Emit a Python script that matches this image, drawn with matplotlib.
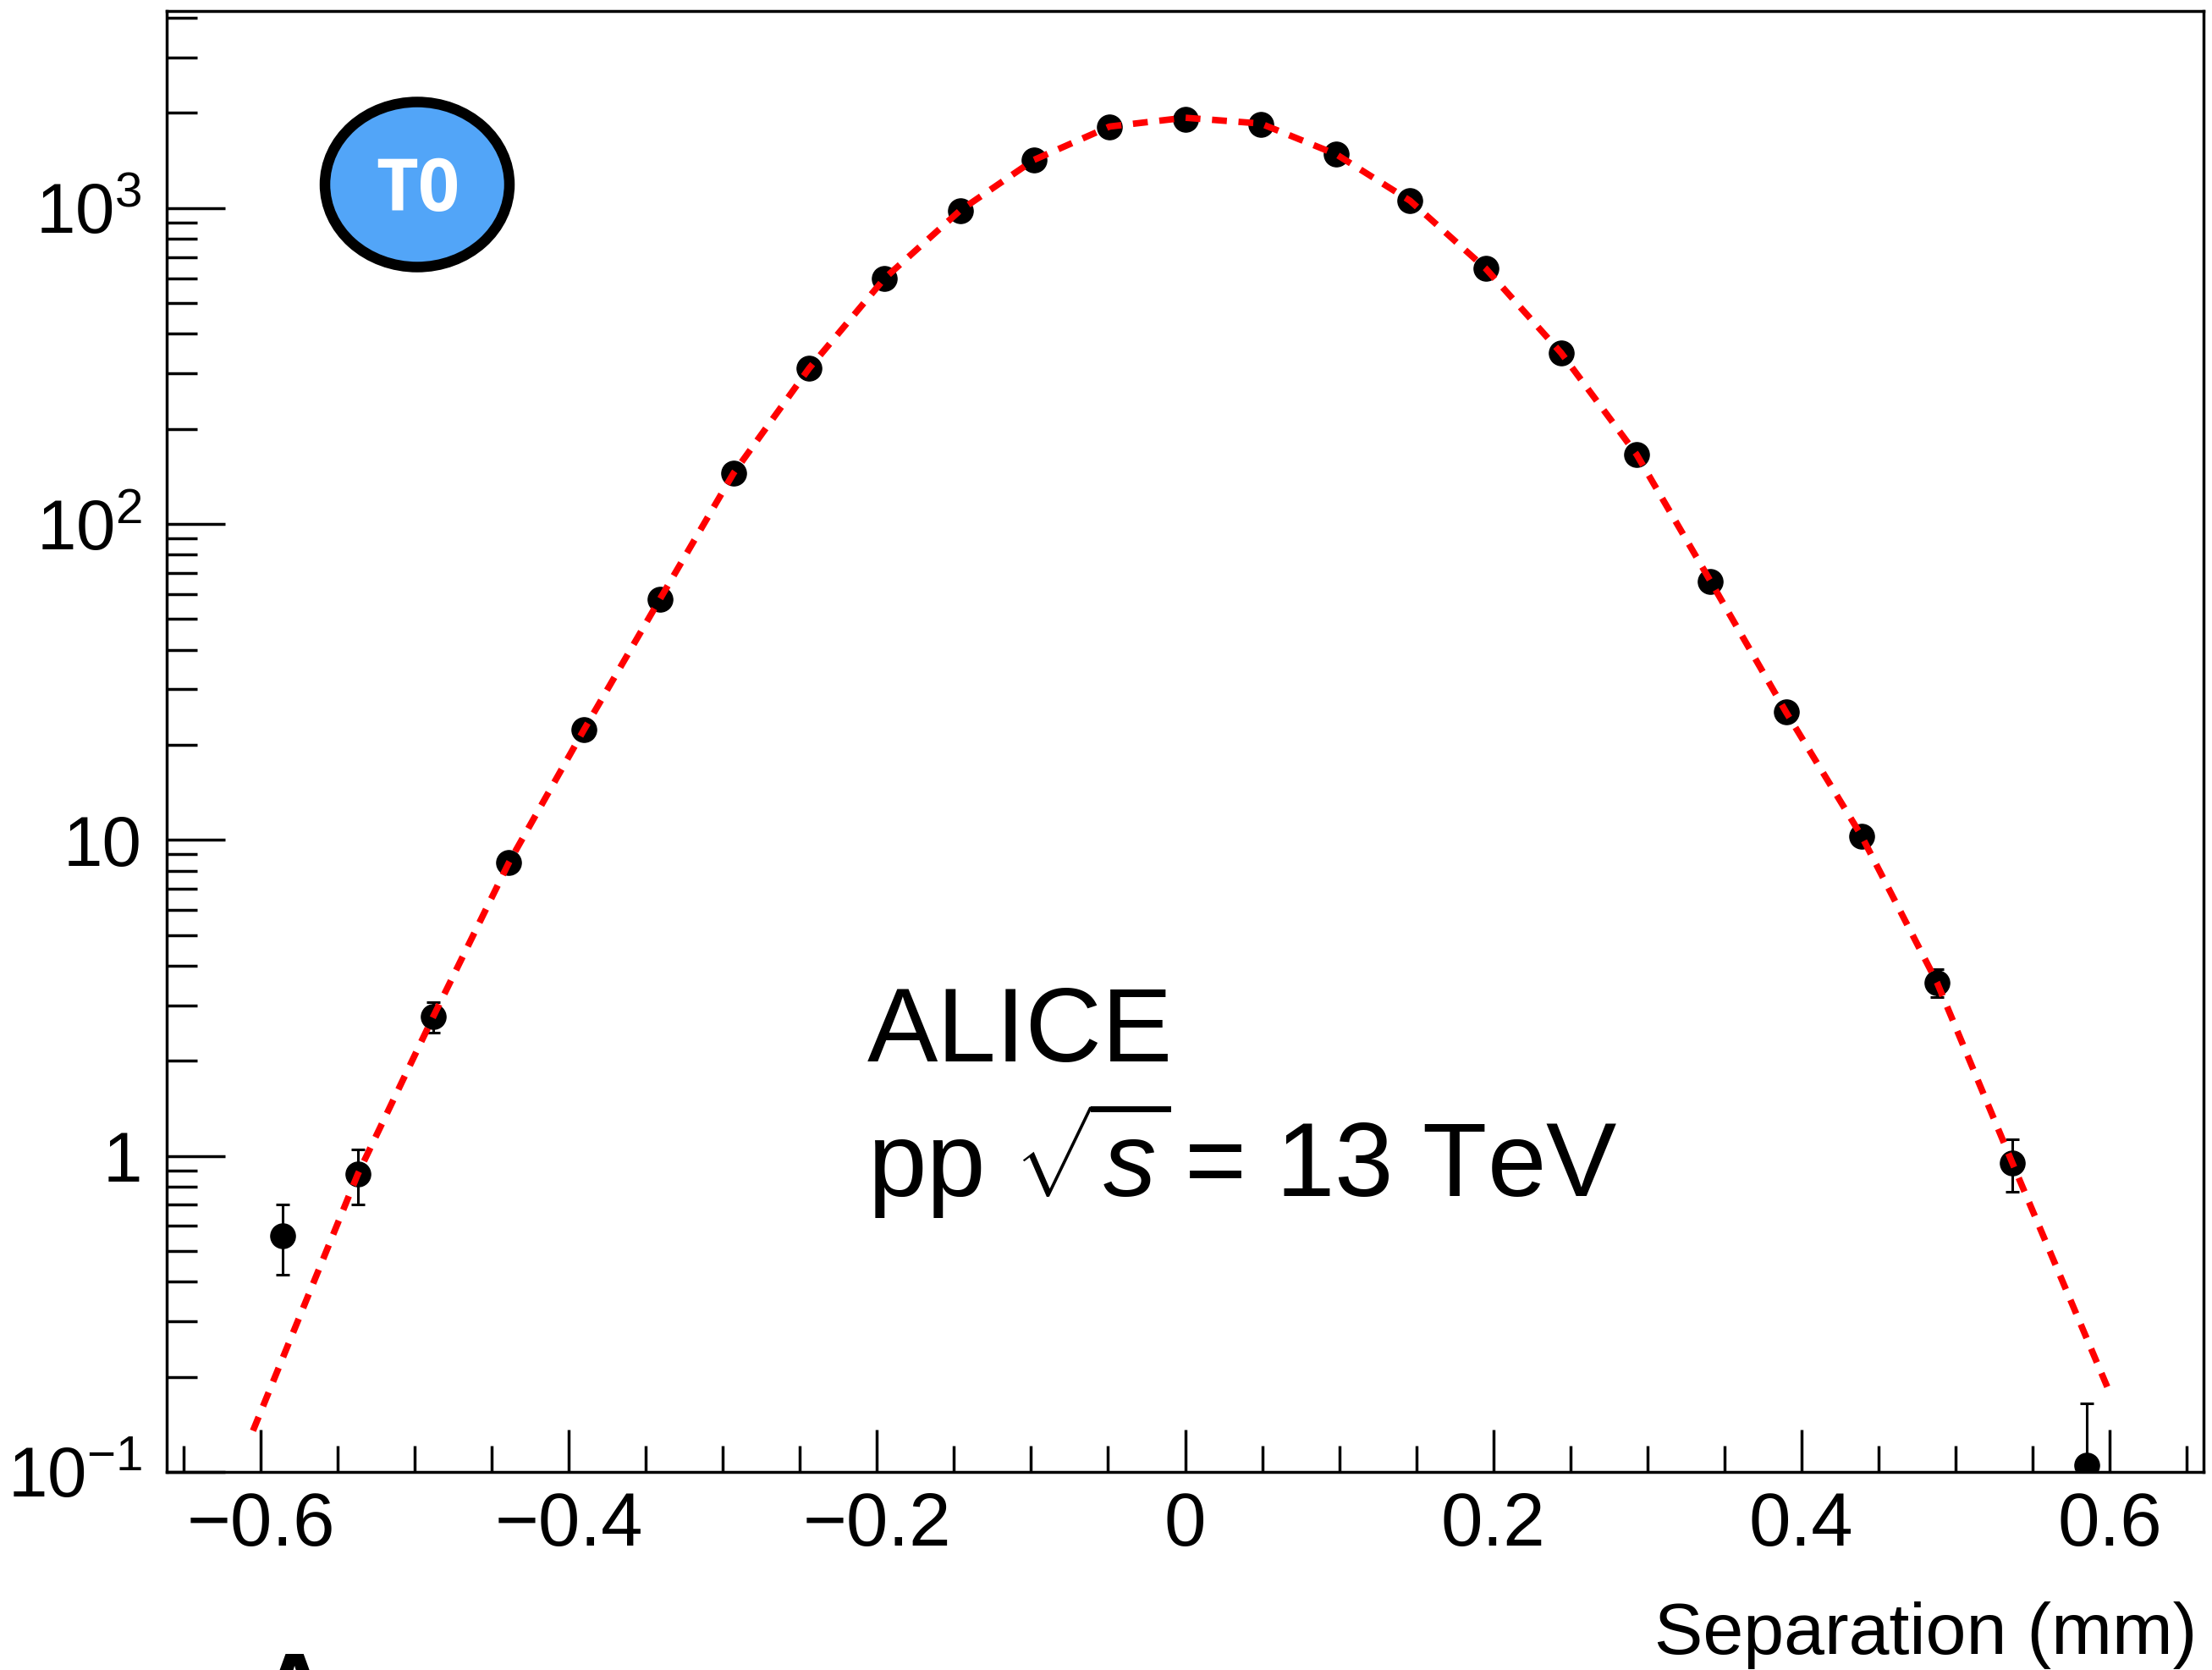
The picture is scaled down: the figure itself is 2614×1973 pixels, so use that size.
import numpy as np
import matplotlib
matplotlib.use("Agg")
from matplotlib import pyplot as plt
from matplotlib.patches import Ellipse
from matplotlib.ticker import FixedLocator, MultipleLocator, LogLocator, NullFormatter

plt.rcParams['font.family'] = ['Liberation Sans', 'DejaVu Sans']
plt.rcParams['mathtext.fontset'] = 'custom'
plt.rcParams['mathtext.rm'] = 'Liberation Sans'
plt.rcParams['mathtext.it'] = 'Liberation Sans:italic'
plt.rcParams['mathtext.bf'] = 'Liberation Sans:bold'

# separation bins (mm) and counts with their errors
separation = [-0.586, -0.537, -0.488, -0.439, -0.390, -0.341, -0.293, -0.244,
              -0.195, -0.146, -0.098, -0.049, 0.0, 0.049, 0.098, 0.146,
              0.195, 0.244, 0.293, 0.341, 0.390, 0.439, 0.488, 0.537, 0.585]
counts = [0.56, 0.875, 2.76, 8.46, 22.4, 57.7, 145, 311,
          599, 982, 1420, 1800, 1910, 1836, 1479, 1054,
          644, 348, 166, 65.9, 25.4, 10.3, 3.54, 0.948, 0.105]
errors = [0.14, 0.175, 0.31, 0.54, 0.89, 1.42, 2.25, 3.3,
          4.6, 5.9, 7.0, 7.9, 8.2, 8.0, 7.2, 6.1,
          4.7, 3.5, 2.4, 1.5, 0.94, 0.60, 0.35, 0.18, 0.06]

# fitted curve, sampled along its length
fit_sep = [-0.605, -0.537, -0.488, -0.439, -0.390, -0.341, -0.293, -0.244,
           -0.195, -0.146, -0.098, -0.049, 0.0, 0.049, 0.098, 0.146,
           0.195, 0.244, 0.293, 0.341, 0.390, 0.439, 0.488, 0.537, 0.601]
fit_counts = [0.135, 0.875, 2.76, 8.46, 22.4, 57.7, 145, 311,
              599, 982, 1420, 1810, 1930, 1850, 1479, 1054,
              644, 348, 166, 65.9, 25.4, 10.3, 3.54, 0.948, 0.174]

yticks = [0.1, 1, 10, 100, 1000]
ytick_labels = [r'$10^{-1}$', '1', '10', r'$10^{2}$', r'$10^{3}$']
xticks = [-0.6, -0.4, -0.2, 0.0, 0.2, 0.4, 0.6]
xtick_labels = ['\u22120.6', '\u22120.4', '\u22120.2', '0', '0.2', '0.4', '0.6']

W, H = 2614, 1973
fig = plt.figure(figsize=(W / 100, H / 100), dpi=100)
ax = fig.add_axes([197 / W, 1 - 1739 / H, (2604 - 197) / W, (1739 - 13) / H])

ax.errorbar(separation, counts, yerr=errors, fmt='o', color='black',
            markersize=21, elinewidth=2.2, capsize=5.5, capthick=2.2, zorder=3)
ax.plot(fit_sep, fit_counts, color='red', lw=5.5, dashes=(2.3, 1.8),
        solid_joinstyle='round', zorder=4)

ax.set_yscale('log')
ax.set_xlim(-0.661, 0.661)
ax.set_ylim(0.1, 4200)

ax.yaxis.set_major_locator(FixedLocator(yticks))
ax.set_yticklabels(ytick_labels)
ax.yaxis.set_minor_locator(LogLocator(base=10, subs=np.arange(2, 10)))
ax.yaxis.set_minor_formatter(NullFormatter())
ax.xaxis.set_major_locator(FixedLocator(xticks))
ax.set_xticklabels(xtick_labels)
ax.xaxis.set_minor_locator(MultipleLocator(0.05))

ax.tick_params(which='both', direction='in', top=False, right=False, width=2.5)
ax.tick_params(axis='y', which='major', length=50, pad=21, labelsize=60)
ax.tick_params(axis='y', which='minor', length=26)
ax.tick_params(axis='x', which='major', length=36, pad=16, labelsize=64)
ax.tick_params(axis='x', which='minor', length=22)
for side in ax.spines.values():
    side.set_linewidth(2.5)

fig.text(2596 / W, 1 - 1954 / H, 'Separation (mm)', ha='right',
         va='baseline', fontsize=62)

fig.text(1025 / W, 1 - 1254 / H, 'ALICE', ha='left', va='baseline',
         fontsize=90)
fig.text(1025 / W, 1 - 1414 / H, r'pp $\sqrt{s}\!$ = 13 TeV', ha='left',
         va='baseline', fontsize=90)

# detector badge
badge = Ellipse((493 / W, 1 - 218 / H), 218 / W, 195 / H,
                transform=fig.transFigure, facecolor='#52a5f8',
                edgecolor='black', linewidth=9, zorder=5)
fig.patches.append(badge)
fig.text(494 / W, 1 - 226 / H, 'T0', ha='center', va='center',
         fontsize=62, fontweight='bold', color='white',
         family=['Open Sans', 'DejaVu Sans'], zorder=6)

# panel letter, clipped by the bottom edge
fig.text(348 / W, 1 - 1950 / H, 'A', ha='center', va='top',
         fontsize=90, fontweight='bold')

fig.savefig('out.png', dpi=100)
